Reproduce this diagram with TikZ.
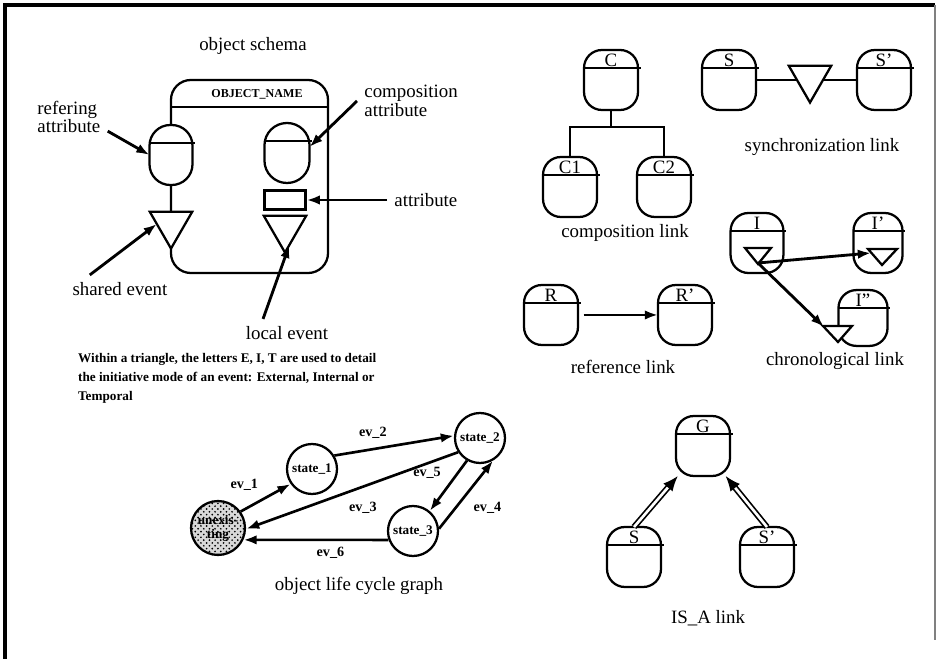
\documentclass[tikz,border=0pt]{standalone}
\usepackage{fontspec}
\setmainfont{Liberation Serif}
\usetikzlibrary{arrows.meta,shapes.geometric,patterns}

% object box: rounded body, header line and name on top of the line
\newcommand{\objcap}[4][]{%
  \node[capsule,#1] (#2) at (#3) {};
  \draw ([yshift=-9.5pt]#2.north west) -- ([yshift=-9.5pt,xshift=1.5pt]#2.north east);
  \node[anchor=base,inner sep=0pt] at ([yshift=-8.8pt]#2.north) {#4};
}

\begin{document}
\begin{tikzpicture}[x=0.53pt,y=-0.53pt,line width=1.2pt,
    >={Latex[length=7pt,width=5pt]},auto,
    capsule/.style={draw,fill=white,rounded corners=9.5pt,minimum width=28.6pt,
      minimum height=31.8pt,inner sep=0pt,outer sep=0pt},
    evt/.style={draw,fill=white,regular polygon,regular polygon sides=3,
      shape border rotate=180,minimum size=26pt,inner sep=0pt,outer sep=0pt},
    lcstate/.style={draw,circle,minimum size=26.5pt,inner sep=0pt,
      font=\fontsize{7}{7.5}\selectfont\bfseries},
    note/.style={font=\fontsize{10}{10}\selectfont},
    lbl/.style={font=\fontsize{7.5}{8}\selectfont\bfseries},
    ptr/.style={->,line width=1.5pt},
    isa/.style={-{Latex[length=8pt,width=6.5pt]},double,double distance=1.4pt,line width=0.9pt}]
    \useasboundingbox (0,0) rectangle (939,659);

    % frame
    \draw[line width=1.6pt] (5,659) -- (5,5) -- (935,5);
    \draw[gray,line width=0.6pt] (935,5) -- (935,640);

    % object schema
    \node[note] (schtitle) at (253,46) {object schema};
    \draw[rounded corners=10.5pt] (171,80) rectangle (328,273);
    \draw (171,107) -- (328,107);
    \node[font=\fontsize{6.4}{7}\selectfont\bfseries] (oname) at (257,94) {OBJECT\_NAME};
    \objcap[minimum width=22.8pt,rounded corners=11pt]{refatt}{171,155}{}
    \node[evt] (shev) at (171,224) {};
    \objcap[minimum width=23.9pt,rounded corners=11.9pt]{compatt}{287,153}{}
    \node[draw,minimum width=21.7pt,minimum height=10pt,inner sep=0pt] (attbox) at (285,200) {};
    \node[evt] (lcev) at (285,228) {};

    \node[note,align=left,anchor=west] (reftxt) at (30,117) {refering\\attribute};
    \node[note,align=left,anchor=west] (comptxt) at (357,101) {composition\\attribute};
    \node[note,anchor=west] (atttxt) at (387,200) {attribute};
    \node[note] (shtxt) at (120,289) {shared event};
    \node[note] (lctxt) at (287,333) {local event};
    \draw[ptr] (reftxt.-20) -- (refatt.west);
    \draw[ptr] (comptxt.west) -- (compatt.15);
    \draw[ptr] (atttxt.west) -- (attbox.east);
    \draw[ptr] ([xshift=-16pt]shtxt.north) -- (shev.west);
    \draw[ptr] ([xshift=-12.7pt]lctxt.north) -- (lcev.-75);

    \node[anchor=north west,align=left,inner sep=0pt,
      font=\fontsize{7}{10}\selectfont\bfseries] (ptext) at (77,352)
      {Within a triangle, the letters E, I, T are used to detail\\
       the initiative mode of an event: External, Internal or\\
       Temporal};

    % object life cycle graph
    \node[lcstate,align=center,minimum size=28.6pt,preaction={fill=gray!30},
      pattern=crosshatch dots] (unex) at (218,528) {unexis-\\ting};
    \node[lcstate] (st1) at (312,469) {state\_1};
    \node[lcstate] (st2) at (480,438) {state\_2};
    \node[lcstate] (st3) at (413,531) {state\_3};

    \path[->,line width=1.4pt,every node/.style={lbl}]
        (unex.36) edge node {ev\_1} (st1.215)
        (st1.31) edge node {ev\_2} (st2.175)
        (st2.213) edge node[pos=0.55] {ev\_3} (unex.-2)
        (st2.240) edge node[swap] {ev\_5} (st3.50)
        (st3.5) edge node[swap] {ev\_4} (st2.-60)
        (st3.200) edge node[pos=0.4] {ev\_6} (unex.-25);
    \node[note] (lctitle) at (359,586) {object life cycle graph};

    % composition link
    \objcap{C}{611,80}{C}
    \objcap{C1}{570,187}{C1}
    \objcap{C2}{664,187}{C2}
    \coordinate (cj) at (611,127);
    \draw (C.south) -- (cj);
    \draw (C1.north) |- (cj) -| (C2.north);
    \node[note] (comptitle) at (625,233) {composition link};

    % synchronization link
    \objcap{S}{729,80}{S}
    \node[evt] (sytri) at (810,78) {};
    \objcap{Sp}{884,80}{S'}
    \draw (S.east) -- (S.east -| sytri.west) (Sp.west) -- (Sp.west -| sytri.east);
    \node[note] (synctitle) at (822,147) {synchronization link};

    % reference link
    \objcap{R}{551,315}{R}
    \objcap{Rp}{685,315}{R'}
    \draw[ptr,shorten <=3pt] (R) -- (Rp);
    \node[note] (reftitle) at (623,367) {reference link};

    % chronological link, flat event triangles inside the boxes
    \objcap[minimum width=28pt]{I}{757,243}{I}
    \draw[fill=white] (745,248) -- (771,248) -- (758,264) -- cycle;
    \coordinate (Itip) at (758,263);
    \objcap[minimum width=26pt]{Ip}{878,243}{I'}
    \draw[fill=white] (868,249) -- (897,249) -- (882,265) -- cycle;
    \coordinate (Ipin) at (871,253);
    \objcap[minimum width=26pt,minimum height=29.6pt]{Ipp}{863,318}{I''}
    \draw[fill=white] (823,326) -- (852,326) -- (838,342) -- cycle;
    \coordinate (Ippin) at (824,327);
    \draw[ptr] (Itip) -- (Ipin);
    \draw[ptr] (Itip) -- (Ippin);
    \node[note] (chrontitle) at (835,361) {chronological link};

    % IS_A link
    \objcap{G}{703,446}{G}
    \objcap{isaS}{634,557}{S}
    \objcap{isaSp}{767,557}{S'}
    \draw[isa] (isaS.north) -- (G.230);
    \draw[isa] (isaSp.north) -- (G.-53);
    \node[note] (isatitle) at (708,618) {IS\_A link};
\end{tikzpicture}
\end{document}
